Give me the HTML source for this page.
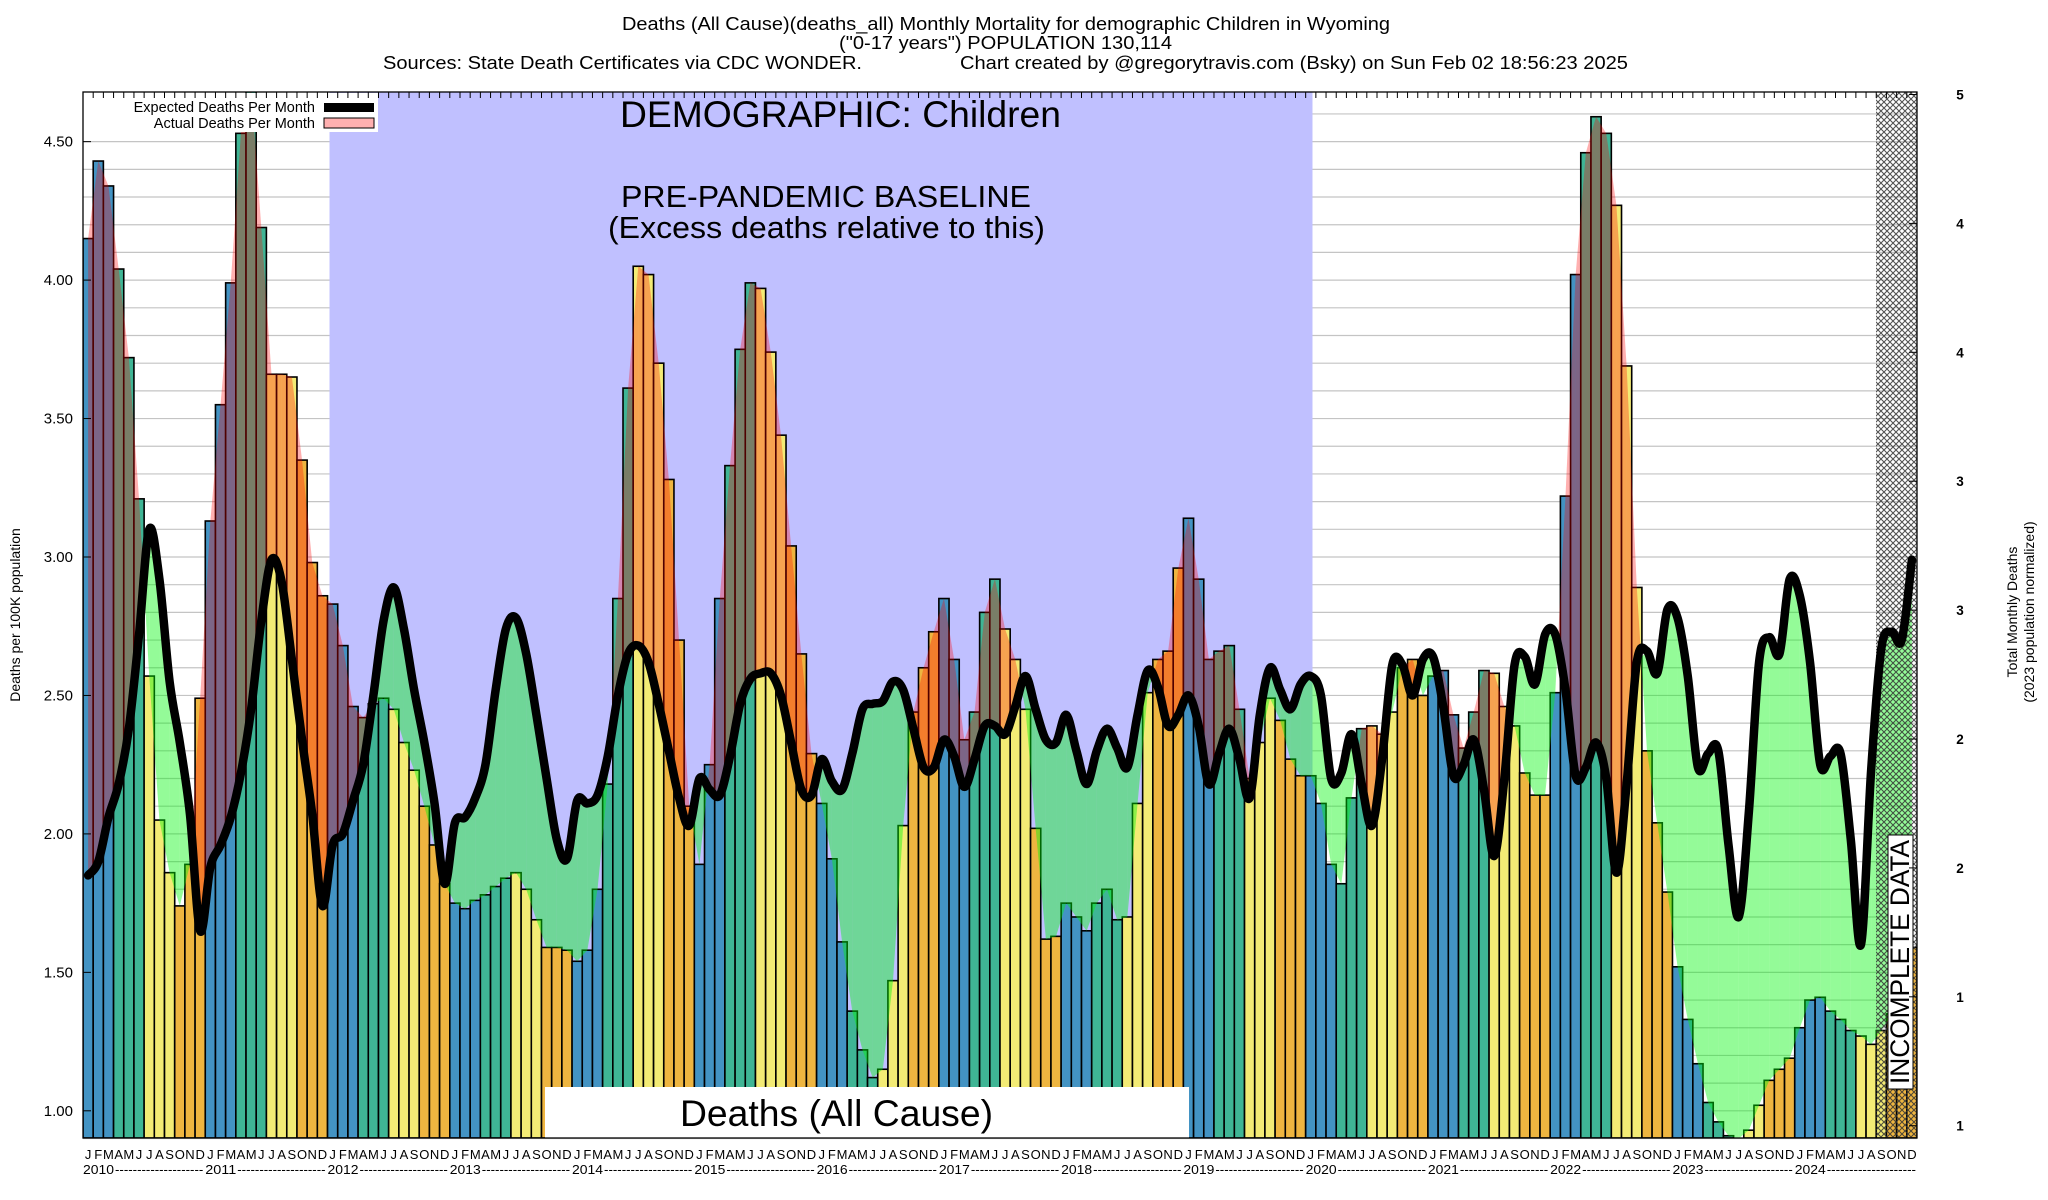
<!DOCTYPE html>
<html><head><meta charset="utf-8">
<style>
html,body{margin:0;padding:0;background:#fff;}
svg{display:block;font-family:"Liberation Sans",Arial,sans-serif;}
</style></head>
<body>
<svg id="chart" width="2048" height="1200" viewBox="0 0 2048 1200" xmlns="http://www.w3.org/2000/svg">
<defs>
<clipPath id="plotclip"><rect x="83" y="92" width="1834" height="1046"/></clipPath>
<pattern id="hatch" width="6" height="6" patternUnits="userSpaceOnUse">
<path d="M0,0 L6,6 M6,0 L0,6" stroke="#333" stroke-width="1.1"/>
</pattern>
</defs>
<g font-size="18" fill="#000">
<text x="622" y="30" textLength="768" lengthAdjust="spacingAndGlyphs">Deaths (All Cause)(deaths_all) Monthly Mortality for demographic Children in Wyoming</text>
<text x="839" y="49" textLength="333" lengthAdjust="spacingAndGlyphs">("0-17 years") POPULATION 130,114</text>
<text x="383" y="69" textLength="479" lengthAdjust="spacingAndGlyphs">Sources: State Death Certificates via CDC WONDER.</text>
<text x="960" y="69" textLength="668" lengthAdjust="spacingAndGlyphs">Chart created by @gregorytravis.com (Bsky) on Sun Feb 02 18:56:23 2025</text>
</g>
<g id="grid"></g>
<rect x="329.5" y="92" width="983" height="1046" fill="#c0c0ff"/>
<g id="bars" clip-path="url(#plotclip)"></g>
<g id="fills" clip-path="url(#plotclip)"></g>
<rect x="1876" y="92" width="41" height="1046" fill="url(#hatch)" opacity="0.85"/>
<g id="line" clip-path="url(#plotclip)"></g>
<g fill="#000">
<text x="620" y="127" font-size="37" textLength="441" lengthAdjust="spacingAndGlyphs">DEMOGRAPHIC: Children</text>
<text x="621" y="207" font-size="31" textLength="410" lengthAdjust="spacingAndGlyphs">PRE-PANDEMIC BASELINE</text>
<text x="608" y="238" font-size="31" textLength="437" lengthAdjust="spacingAndGlyphs">(Excess deaths relative to this)</text>
</g>
<g>
<rect x="545" y="1087" width="644" height="51" fill="#fff"/>
<text x="680" y="1126" font-size="37" textLength="313" lengthAdjust="spacingAndGlyphs">Deaths (All Cause)</text>
</g>
<g>
<rect x="1888" y="835" width="25" height="254" fill="#fff" stroke="#000" stroke-width="1"/>
<text transform="translate(1909,1084) rotate(-90)" font-size="27" textLength="244" lengthAdjust="spacingAndGlyphs">INCOMPLETE DATA</text>
</g>
<g>
<rect x="83" y="93" width="295" height="39" fill="#fff"/>
<text x="315" y="112" font-size="14.5" text-anchor="end">Expected Deaths Per Month</text>
<rect x="324" y="103" width="50" height="9" fill="#000"/>
<text x="315" y="128" font-size="14.5" text-anchor="end">Actual Deaths Per Month</text>
<rect x="324" y="118" width="50" height="10" fill="#ffb0b0" stroke="#000" stroke-width="1"/>
</g>
<rect x="83" y="92" width="1834" height="1046" fill="none" stroke="#000" stroke-width="1.3"/>
<g id="axes"></g>
<text transform="translate(20,615) rotate(-90)" font-size="14" text-anchor="middle">Deaths per 100K population</text>
<text transform="translate(2017,612) rotate(-90)" font-size="14" text-anchor="middle">Total Monthly Deaths</text>
<text transform="translate(2034,612) rotate(-90)" font-size="14" text-anchor="middle">(2023 population normalized)</text>
</svg>
<script>
const years = [2010,2011,2012,2013,2014,2015,2016,2017,2018,2019,2020,2021,2022,2023,2024];
const monthLetters = ["J","F","M","A","M","J","J","A","S","O","N","D"];
const actualDeaths = [
4.15,4.43,4.34,4.04,3.72,3.21,2.57,2.05,1.86,1.74,1.89,2.49,
3.13,3.55,3.99,4.53,4.70,4.19,3.66,3.66,3.65,3.35,2.98,2.86,
2.83,2.68,2.46,2.42,2.47,2.49,2.45,2.33,2.23,2.10,1.96,1.82,
1.75,1.73,1.76,1.78,1.81,1.84,1.86,1.80,1.69,1.59,1.59,1.58,
1.54,1.58,1.80,2.18,2.85,3.61,4.05,4.02,3.70,3.28,2.70,2.10,
1.89,2.25,2.85,3.33,3.75,3.99,3.97,3.74,3.44,3.04,2.65,2.29,
2.11,1.91,1.61,1.36,1.22,1.12,1.15,1.47,2.03,2.44,2.60,2.73,
2.85,2.63,2.34,2.44,2.80,2.92,2.74,2.63,2.45,2.02,1.62,1.63,
1.75,1.70,1.65,1.75,1.80,1.69,1.70,2.11,2.51,2.63,2.66,2.96,
3.14,2.92,2.63,2.66,2.68,2.45,2.20,2.33,2.49,2.41,2.27,2.21,
2.21,2.11,1.89,1.82,2.13,2.38,2.39,2.36,2.44,2.60,2.63,2.50,
2.57,2.59,2.43,2.31,2.44,2.59,2.58,2.46,2.39,2.22,2.14,2.14,
2.51,3.22,4.02,4.46,4.59,4.53,4.27,3.69,2.89,2.30,2.04,1.79,
1.52,1.33,1.17,1.03,0.96,0.91,0.90,0.93,1.02,1.11,1.15,1.19,
1.30,1.40,1.41,1.36,1.33,1.29,1.27,1.24,1.29,1.35,1.45,1.59];
const expectedDeaths = [
1.85,1.90,2.06,2.18,2.38,2.72,3.10,2.92,2.55,2.33,2.07,1.65,
1.88,1.96,2.06,2.22,2.45,2.77,2.99,2.91,2.63,2.34,2.07,1.74,
1.96,2.00,2.12,2.25,2.50,2.77,2.89,2.74,2.52,2.33,2.11,1.82,
2.04,2.06,2.13,2.25,2.52,2.74,2.78,2.65,2.43,2.20,1.98,1.91,
2.12,2.11,2.14,2.28,2.50,2.65,2.68,2.62,2.47,2.30,2.13,2.03,
2.20,2.16,2.14,2.28,2.47,2.56,2.58,2.58,2.50,2.33,2.16,2.14,
2.27,2.19,2.16,2.29,2.45,2.47,2.48,2.55,2.52,2.38,2.24,2.24,
2.34,2.28,2.17,2.27,2.39,2.39,2.36,2.46,2.57,2.45,2.34,2.33,
2.43,2.30,2.18,2.30,2.38,2.31,2.24,2.43,2.59,2.53,2.39,2.43,
2.50,2.39,2.18,2.29,2.38,2.27,2.13,2.43,2.60,2.52,2.45,2.54,
2.57,2.50,2.20,2.22,2.36,2.18,2.03,2.27,2.61,2.61,2.50,2.63,
2.64,2.46,2.21,2.25,2.34,2.16,1.92,2.20,2.61,2.64,2.54,2.72,
2.72,2.52,2.21,2.24,2.33,2.20,1.86,2.18,2.62,2.66,2.58,2.81,
2.78,2.57,2.24,2.29,2.30,1.96,1.70,2.08,2.62,2.71,2.65,2.92,
2.86,2.62,2.25,2.28,2.29,1.98,1.60,2.23,2.67,2.73,2.70,2.99];
const leftTicks = [1.00,1.50,2.00,2.50,3.00,3.50,4.00,4.50];
const rightTicks = [5,4.5,4,3.5,3,2.5,2,1.5,1];

const NS = "http://www.w3.org/2000/svg";
const L = 83, R = 1917, T = 92, B = 1138;
const N = actualDeaths.length;
const mw = (R - L) / N;
function xLeft(i){ return L + i * mw; }
function xMid(i){ return L + (i + 0.5) * mw; }
function yVal(v){ return 1110.8 - (v - 1) * 276.9; }
function yRight(d){ return 94.5 + (5 - d) * 257.8; }
function mk(tag, attrs, parent){
  const e = document.createElementNS(NS, tag);
  for (const k in attrs) e.setAttribute(k, attrs[k]);
  parent.appendChild(e);
  return e;
}
const seasonColors = ["#4393c3","#3fb595","#f3eb75","#eeb540"];

// grid
const grid = document.getElementById("grid");
for (let k = 9; k <= 46; k++) {
  const v = k / 10;
  const gl = mk("line", {x1:L, x2:R, y1:yVal(v), y2:yVal(v), stroke:"#c4c4c4", "stroke-width":1.2}, grid);
  
  
}

// bars
const barsG = document.getElementById("bars");
for (let i = 0; i < N; i++) {
  const v = actualDeaths[i];
  const b = mk("rect", {x:xLeft(i), y:yVal(v), width:mw, height:B - yVal(v),
    fill:seasonColors[Math.floor((i % 12) / 3)], stroke:"#000", "stroke-width":1.6}, barsG);
  
  
}

// fills between actual and expected
const fillsG = document.getElementById("fills");
function addPoly(pts, positive){
  const p = mk("polygon", {points: pts.map(q => q[0].toFixed(2)+","+q[1].toFixed(2)).join(" "),
    fill: positive ? "rgba(255,0,0,0.31)" : "rgba(0,245,10,0.42)"}, fillsG);
  
  
}
for (let i = 0; i < N - 1; i++) {
  const x0 = xMid(i), x1 = xMid(i+1);
  const a0 = actualDeaths[i], a1 = actualDeaths[i+1], e0 = expectedDeaths[i], e1 = expectedDeaths[i+1];
  const d0 = a0 - e0, d1 = a1 - e1;
  if ((d0 >= 0) === (d1 >= 0)) {
    addPoly([[x0,yVal(a0)],[x1,yVal(a1)],[x1,yVal(e1)],[x0,yVal(e0)]], d0 + d1 >= 0);
  } else {
    const t = d0 / (d0 - d1);
    const xc = x0 + t * (x1 - x0), vc = a0 + t * (a1 - a0);
    addPoly([[x0,yVal(a0)],[xc,yVal(vc)],[x0,yVal(e0)]], d0 >= 0);
    addPoly([[xc,yVal(vc)],[x1,yVal(a1)],[x1,yVal(e1)]], d1 >= 0);
  }
}

// expected line (smooth)
const pts = expectedDeaths.map((v,i) => [xMid(i), yVal(v)]);
let d = "M" + pts[0][0].toFixed(2) + "," + pts[0][1].toFixed(2);
for (let i = 0; i < pts.length - 1; i++) {
  const p0 = pts[Math.max(0,i-1)], p1 = pts[i], p2 = pts[i+1], p3 = pts[Math.min(pts.length-1,i+2)];
  const c1 = [p1[0] + (p2[0]-p0[0])/6, p1[1] + (p2[1]-p0[1])/6];
  const c2 = [p2[0] - (p3[0]-p1[0])/6, p2[1] - (p3[1]-p1[1])/6];
  d += " C" + c1[0].toFixed(2)+","+c1[1].toFixed(2)+" "+c2[0].toFixed(2)+","+c2[1].toFixed(2)+" "+p2[0].toFixed(2)+","+p2[1].toFixed(2);
}
const lineEl = mk("path", {d:d, fill:"none", stroke:"#000", "stroke-width":8.5, "stroke-linejoin":"round", "stroke-linecap":"round"}, document.getElementById("line"));



// axes
const axes = document.getElementById("axes");
for (const v of leftTicks) {
  const t = mk("text", {x:73, y:yVal(v)+5, "font-size":15, "text-anchor":"end"}, axes);
  t.textContent = v.toFixed(2);
  
  
  const tk = mk("line", {x1:L, x2:L+8, y1:yVal(v), y2:yVal(v), stroke:"#000", "stroke-width":1}, axes);
  
  
}
for (const r of rightTicks) {
  const t = mk("text", {x:1960, y:yRight(r)+5, "font-size":13.5, "font-weight":"bold", "text-anchor":"middle"}, axes);
  t.textContent = String(Math.floor(r));
  
  
  const tk = mk("line", {x1:R-8, x2:R, y1:yRight(r), y2:yRight(r), stroke:"#000", "stroke-width":1}, axes);
  
  
}
for (let i = 0; i < N; i++) {
  const tk = mk("line", {x1:xLeft(i), x2:xLeft(i), y1:T, y2:T+6, stroke:"#000", "stroke-width":1}, axes);
  
  
  const t = mk("text", {x:xMid(i), y:1159, "font-size":13, "text-anchor":"middle"}, axes);
  t.textContent = monthLetters[i % 12];
  
  
}
for (let k = 0; k < years.length; k++) {
  const x0 = xLeft(k*12);
  const t = mk("text", {x:x0, y:1174, "font-size":13, textLength:31, lengthAdjust:"spacingAndGlyphs"}, axes);
  t.textContent = String(years[k]);
  
  
  const dashEnd = (k < years.length - 1) ? xLeft((k+1)*12) - 1 : R;
  const ds = mk("text", {x:x0+32, y:1174, "font-size":13, textLength:(dashEnd - x0 - 33).toFixed(1), lengthAdjust:"spacingAndGlyphs"}, axes);
  ds.textContent = "-".repeat(20);
  
  
}
</script>
</body></html>
